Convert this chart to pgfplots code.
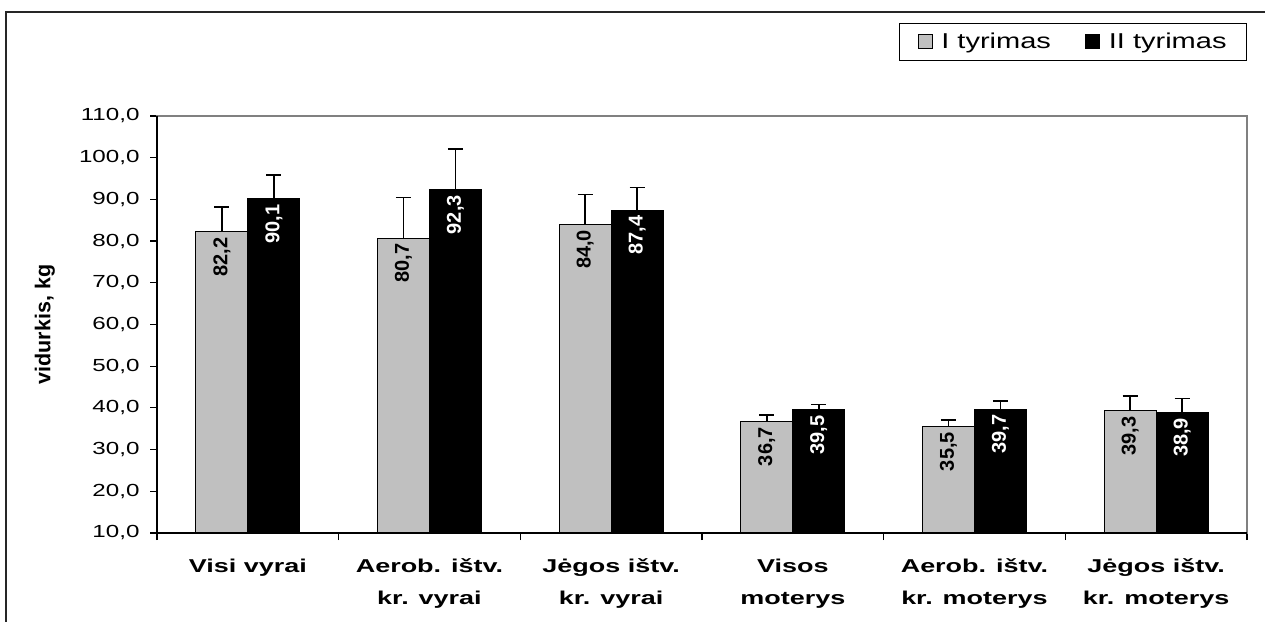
\documentclass[border=0pt]{standalone}
\usepackage{fontspec}
\setmainfont{Liberation Sans}
\newfontfamily\tickfont[FakeStretch=1.38]{Liberation Sans}
\newfontfamily\legfont[FakeStretch=1.35]{Liberation Sans}
\newfontfamily\catfont[FakeStretch=1.45]{Liberation Sans}
\usepackage{pgfplots}
\usepackage{pgfplotstable}
\pgfplotsset{compat=1.18}
\definecolor{barg}{HTML}{C0C0C0}
\definecolor{boxg}{HTML}{808080}

\pgfplotstableread{
x a aerr b berr
0 82.2 6.0 90.1 5.7
1 80.7 9.8 92.3 9.8
2 84.0 7.2 87.4 5.4
3 36.7 1.6 39.5 1.3
4 35.5 1.6 39.7 1.9
5 39.3 3.5 38.9 3.4
}\datatable

\begin{document}
\begin{tikzpicture}
\useasboundingbox (0,0) rectangle (1265pt,621pt);
\draw[line width=1.5pt, black!85] (6pt,-30pt) |- (1300pt,609pt);
\begin{axis}[
  at={(157pt,88pt)}, anchor=south west,
  scale only axis, width=1090pt, height=417pt,
  xmin=-0.5, xmax=5.5, ymin=10, ymax=110,
  ybar=0pt, bar width=52pt,
  ytick={10,20,30,40,50,60,70,80,90,100,110},
  xtick={0,1,2,3,4,5},
  xticklabels={{Visi vyrai},{Aerob. ištv.\\kr. vyrai},{Jėgos ištv.\\kr. vyrai},{Visos\\moterys},{Aerob. ištv.\\kr. moterys},{Jėgos ištv.\\kr. moterys}},
  minor xtick={-0.5,0.5,1.5,2.5,3.5,4.5,5.5},
  tick pos=left,
  tick align=outside,
  major tick length=7pt,
  minor tick length=7pt,
  major x tick style={draw=none},
  tick style={black, line width=1.2pt},
  axis line style={boxg, line width=1.5pt},
  /pgf/number format/.cd, fixed, fixed zerofill, precision=1, use comma, assume math mode=true,
  /pgfplots/.cd,
  yticklabel style={font=\tickfont\fontsize{17.5}{20}\selectfont, xshift=-7pt},
  xticklabel style={font=\catfont\bfseries\fontsize{18.6}{32}\selectfont, align=center, yshift=-15pt},
  ylabel={vidurkis, kg},
  ylabel style={font=\bfseries\fontsize{21.5}{24}\selectfont, at={(axis description cs:-0.1028,0.5)}, anchor=center},
  legend style={at={(axis description cs:1,1.223)}, anchor=north east, legend columns=2, draw=black, line width=0.8pt,
    font=\legfont\fontsize{21.5}{24}\selectfont, inner xsep=18pt, inner ysep=8pt,
    /tikz/every odd column/.append style={column sep=7pt},
    /tikz/every even column/.append style={column sep=32pt}},
  legend image code/.code={\draw[#1, draw=black, line width=0.8pt] (0pt,-6pt) rectangle (14pt,8pt);},
  nodes near coords,
  point meta=y,
  every node near coord/.append style={font=\bfseries\fontsize{20}{21}\selectfont, rotate=90, anchor=east, inner sep=5pt},
  clip=false,
]
\addplot[fill=barg, draw=black, line width=1pt,
  error bars/.cd, y dir=plus, y explicit, error mark=|,
  error bar style={line width=1.5pt, black},
  error mark options={line width=1.5pt, mark size=7.5pt, black}]
  table[x=x, y=a, y error=aerr] {\datatable};
\addplot[fill=black, draw=black, line width=1pt,
  every node near coord/.append style={text=white},
  error bars/.cd, y dir=plus, y explicit, error mark=|,
  error bar style={line width=1.5pt, black},
  error mark options={line width=1.5pt, mark size=7.5pt, black}]
  table[x=x, y=b, y error=berr] {\datatable};
\legend{I tyrimas, II tyrimas}
\draw[black, line width=1.5pt] (rel axis cs:0,1) -- (rel axis cs:0,0) -- (rel axis cs:1,0);
\end{axis}
\end{tikzpicture}
\end{document}
